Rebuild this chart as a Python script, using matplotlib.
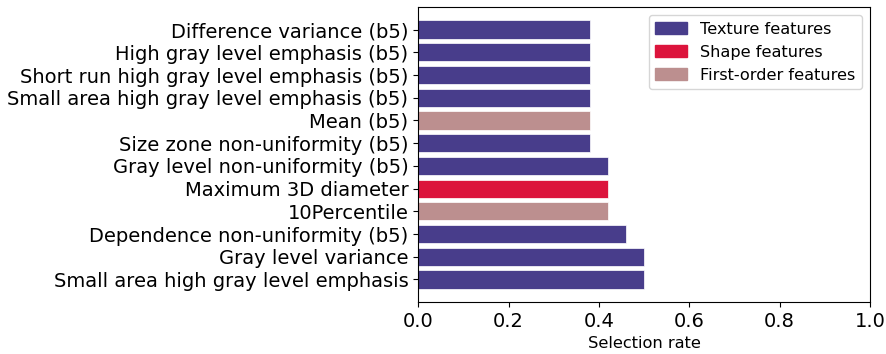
import matplotlib
matplotlib.use("Agg")
import matplotlib.pyplot as plt
from matplotlib.patches import Patch

# features from bottom to top
features = [
    "Small area high gray level emphasis",
    "Gray level variance",
    "Dependence non-uniformity (b5)",
    "10Percentile",
    "Maximum 3D diameter",
    "Gray level non-uniformity (b5)",
    "Size zone non-uniformity (b5)",
    "Mean (b5)",
    "Small area high gray level emphasis (b5)",
    "Short run high gray level emphasis (b5)",
    "High gray level emphasis (b5)",
    "Difference variance (b5)",
]
rates = [0.50, 0.50, 0.46, 0.42, 0.42, 0.42, 0.38, 0.38, 0.38, 0.38, 0.38, 0.38]
groups = ["texture", "texture", "texture", "first", "shape", "texture",
          "texture", "first", "texture", "texture", "texture", "texture"]

group_colors = {"texture": "darkslateblue", "shape": "crimson", "first": "rosybrown"}
group_labels = {"texture": "Texture features", "shape": "Shape features",
                "first": "First-order features"}

fig, ax = plt.subplots(figsize=(8.86, 3.54), dpi=100)
ax.barh(features, rates, color=[group_colors[g] for g in groups], edgecolor="white", linewidth=0.5)
ax.set_xlim(0, 1)
ax.set_xlabel("Selection rate", fontsize=11.7)
ax.tick_params(axis="both", labelsize=14)

handles = [Patch(color=group_colors[k], label=group_labels[k]) for k in ["texture", "shape", "first"]]
ax.legend(handles=handles, loc="upper right", fontsize=11.6)

fig.subplots_adjust(left=0.472, right=0.982, top=0.98, bottom=0.147)
fig.savefig("out.png")
